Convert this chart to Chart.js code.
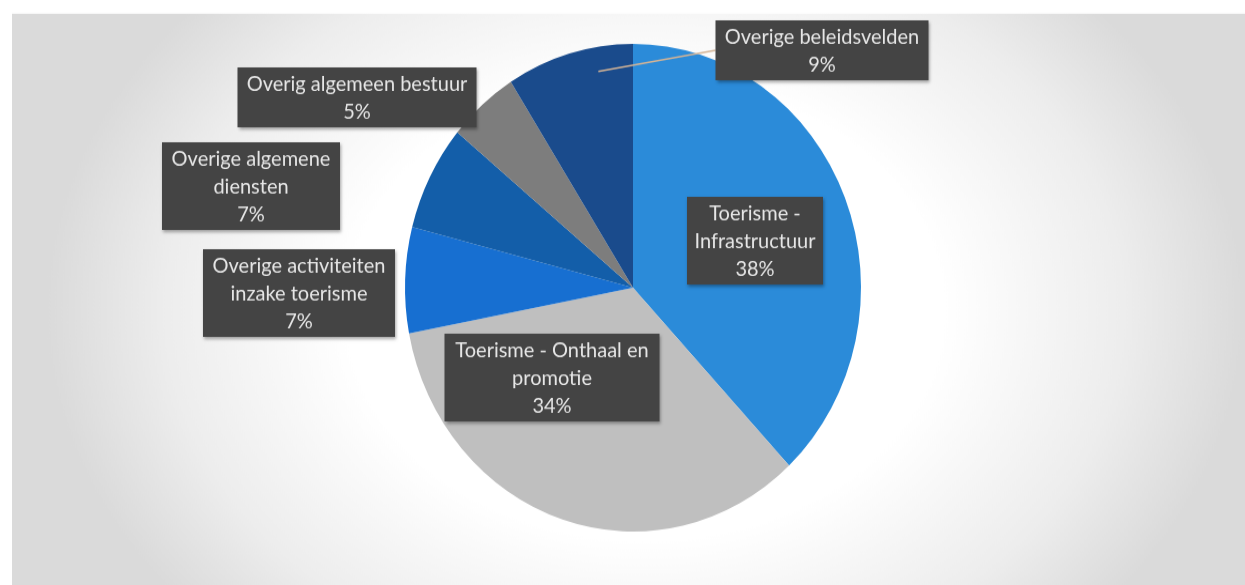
<!DOCTYPE html>
<html lang="nl">
<head>
  <meta charset="UTF-8" />
  <title>Verdeling toerisme</title>
  <script src="https://cdn.jsdelivr.net/npm/chart.js"></script>
  <style>
    html, body { margin: 0; padding: 0; background: #fff; overflow: hidden; }
    #pieChart { display: block; }
  </style>
</head>
<body>
  <!-- the bitmap is 547px tall and shown slightly stretched -->
  <canvas id="pieChart" width="1245" height="547" style="width:1245px;height:585px"></canvas>

  <script>
    const categories = [
      'Toerisme - Infrastructuur',
      'Toerisme - Onthaal en promotie',
      'Overige activiteiten inzake toerisme',
      'Overige algemene diensten',
      'Overig algemeen bestuur',
      'Overige beleidsvelden'
    ];
    const shares = [38, 34, 7, 7, 5, 9];
    // wrapped text for the data labels (percentage is appended)
    const labelLines = [
      ['Toerisme -', 'Infrastructuur'],
      ['Toerisme - Onthaal en', 'promotie'],
      ['Overige activiteiten', 'inzake toerisme'],
      ['Overige algemene', 'diensten'],
      ['Overig algemeen bestuur'],
      ['Overige beleidsvelden']
    ];
    const sliceColors = ['#2b8bd9', '#bfbfbf', '#176fd1', '#135ea9', '#7d7d7d', '#1a4b8c'];

    // label box placement: centre x/y and box width
    const labelBoxes = [
      { x: 755, y: 225, w: 136 },
      { x: 552, y: 353, w: 215 },
      { x: 299, y: 274, w: 192 },
      { x: 251, y: 174, w: 178 },
      { x: 357, y: 91, w: 239 },
      { x: 822, y: 47, w: 213, leader: true }
    ];

    const backdrop = {
      id: 'backdrop',
      beforeDraw(chart) {
        const ctx = chart.ctx;
        ctx.save();
        ctx.fillStyle = '#fff';
        ctx.fillRect(0, 0, chart.width, chart.height);
        // soft elliptical shading behind the pie
        const g = ctx.createRadialGradient(0, 0, 0, 0, 0, 600);
        g.addColorStop(0, '#ffffff');
        g.addColorStop(0.5, '#ffffff');
        g.addColorStop(0.8, '#ededed');
        g.addColorStop(1, '#dadada');
        ctx.translate(645, 290);
        ctx.scale(1, 0.72);
        ctx.fillStyle = g;
        ctx.fillRect(-633, -385, 1233, 900);
        ctx.restore();
      }
    };

    const boxLabels = {
      id: 'boxLabels',
      afterDatasetsDraw(chart) {
        const ctx = chart.ctx;
        const arcs = chart.getDatasetMeta(0).data;
        const total = shares.reduce((a, b) => a + b, 0);
        const lh = 26;
        ctx.save();
        ctx.font = '20px Lato, "Open Sans", sans-serif';
        ctx.textAlign = 'center';
        ctx.textBaseline = 'middle';

        labelBoxes.forEach((b, i) => {
          const lines = [...labelLines[i], Math.round(shares[i] / total * 100) + '%'];
          const h = lines.length * lh + 4;
          const left = b.x - b.w / 2, top = b.y - h / 2;

          if (b.leader) {
            const a = arcs[i];
            const mid = a.endAngle - (a.endAngle - a.startAngle) * 0.3;
            const r = a.outerRadius * 0.9;
            ctx.strokeStyle = '#d4b496';
            ctx.lineWidth = 1.3;
            ctx.beginPath();
            ctx.moveTo(left, b.y);
            ctx.lineTo(a.x + Math.cos(mid) * r, a.y + Math.sin(mid) * r);
            ctx.stroke();
          }

          ctx.shadowColor = 'rgba(0,0,0,0.35)';
          ctx.shadowBlur = 3;
          ctx.shadowOffsetX = 1;
          ctx.shadowOffsetY = 2;
          ctx.fillStyle = '#444444';
          ctx.fillRect(left, top, b.w, h);
          ctx.shadowColor = 'transparent';

          ctx.fillStyle = '#e6e6e6';
          lines.forEach((t, k) => {
            ctx.fillText(t, b.x, top + 2 + lh / 2 + k * lh + 1);
          });
        });
        ctx.restore();
      }
    };

    new Chart(document.getElementById('pieChart'), {
      type: 'pie',
      data: {
        labels: categories,
        datasets: [{
          data: shares,
          backgroundColor: sliceColors,
          borderWidth: 0
        }]
      },
      options: {
        responsive: false,
        animation: false,
        layout: { padding: { top: 41, bottom: 50, left: 405, right: 384 } },
        plugins: {
          legend: { display: false },
          tooltip: { enabled: false }
        }
      },
      plugins: [backdrop, boxLabels]
    });
  </script>
</body>
</html>
